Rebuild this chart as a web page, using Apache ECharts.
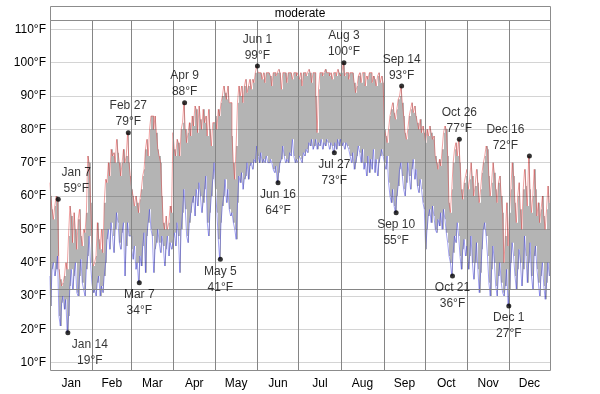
<!DOCTYPE html>
<html><head><meta charset="utf-8">
<script src="https://cdn.jsdelivr.net/npm/echarts@6/dist/echarts.min.js"></script>
<style>html,body{margin:0;padding:0;background:#fff}#c{width:600px;height:394px}</style>
</head><body><div id="c"></div>
<script>
// ---- data ----
const monthNames = ['Jan','Feb','Mar','Apr','May','Jun','Jul','Aug','Sep','Oct','Nov','Dec'];
const monthStarts = [0,31,59,90,120,151,181,212,243,273,304,334];
const yearEnd = 364;
const yTicks = [10,20,30,40,50,60,70,80,90,100,110];
const freezing = 32;
const seriesTitle = 'moderate';

const hiJan = [64,60,56,53,57,60,59,38,35,33,34,36,40,38,48,57,54,46,55,50,44,53,56,48,45,50,49,55,72,70,58];
const loJan = [36,27,38,40,36,38,42,24,21,28,30,26,29,19,24,33,38,32,36,40,31,30,36,41,34,32,30,38,42,48,40];
const hiFeb = [48,39,40,42,52,47,44,50,43,58,65,64,70,66,74,72,73,70,77,73,70,66,70,74,70,72,79,70];
const loFeb = [34,31,32,30,34,36,30,33,31,36,40,47,50,44,52,48,43,50,55,52,46,44,49,52,36,45,52,48];
const hiMar = [66,62,60,57,60,58,55,59,62,66,68,74,77,72,80,84,84,80,84,79,74,72,70,60,52,50,54,50,52,57,55];
const loMar = [48,44,41,45,38,40,34,42,39,45,49,37,48,52,56,50,48,37,44,46,50,46,43,48,45,39,44,48,42,46,44];
const hiApr = [79,74,72,77,76,72,80,82,88,80,76,79,82,78,84,81,87,86,79,87,83,80,86,82,84,78,86,80,75,82];
const loApr = [46,49,45,52,48,37,50,55,62,56,48,46,52,55,58,60,54,62,57,64,60,55,58,62,66,52,48,55,60,65];
const hiMay = [82,84,80,86,84,88,90,93,91,89,93,88,88,78,70,65,75,88,93,90,93,88,93,95,91,93,95,92,95,94,97];
const loMay = [70,62,55,47,41,52,57,60,65,58,62,56,54,55,52,50,47,58,66,64,67,62,65,66,70,65,69,70,68,71,70];
const hiJun = [99,97,97,97,95,97,94,97,97,97,96,93,97,97,96,97,98,97,92,97,97,97,94,97,97,97,95,97,97,96];
const loJun = [75,72,70,73,70,71,70,72,70,70,71,70,68,67,69,64,67,70,71,75,72,70,71,70,73,72,77,72,70,71];
const hiJul = [97,95,97,93,97,97,96,97,98,97,94,97,97,90,79,92,97,97,96,97,98,97,97,96,97,95,97,97,96,98,97];
const loJul = [70,72,71,70,73,72,74,73,76,75,77,74,75,77,74,76,75,77,74,76,75,77,76,74,76,75,73,76,74,77,75];
const hiAug = [96,97,100,96,97,97,95,97,97,97,94,91,93,96,97,94,97,97,93,96,95,97,97,94,96,95,93,96,97,94,96];
const loAug = [77,75,76,74,76,75,74,72,70,73,68,70,72,75,73,70,74,68,70,66,72,67,71,68,74,67,71,66,70,72,74];
const hiSep = [94,80,78,76,80,84,86,88,85,83,86,89,90,93,88,84,79,77,80,84,86,88,85,87,84,82,80,83,79,81];
const loSep = [72,70,68,72,64,60,58,62,57,55,60,63,68,70,66,62,60,64,70,66,62,68,71,65,68,63,61,65,62,58];
const hiOct = [79,76,80,78,81,79,77,78,72,70,68,71,69,74,79,81,80,72,58,55,62,70,74,76,72,77,70,62,59,64,66];
const loOct = [56,44,50,54,56,52,57,54,50,49,53,51,55,50,56,53,49,46,42,40,36,43,48,46,52,48,42,38,44,47,42];
const hiNov = [68,62,65,70,66,60,63,68,64,58,62,67,70,72,75,74,66,60,64,70,67,62,58,64,66,60,55,40,48,58];
const loNov = [45,38,42,48,40,35,40,46,38,31,37,44,50,52,48,42,34,30,38,45,40,33,30,36,40,34,31,30,33,38];
const hiDec = [45,55,62,70,66,58,52,60,64,56,50,62,68,63,57,72,62,55,60,68,62,54,58,52,56,60,54,50,56,63,58];
const loDec = [27,32,40,46,42,36,32,38,44,40,33,38,48,42,34,40,46,36,32,42,45,38,34,30,36,40,33,29,34,40,36];

// annotated extremes (day-of-year indices, 0 = Jan 1)
const annHighDays = [6,57,98,151,214,256,298,349];
const annLowDays  = [13,65,124,166,207,252,293,334];

// ---- build ----
const highs = [].concat(hiJan,hiFeb,hiMar,hiApr,hiMay,hiJun,hiJul,hiAug,hiSep,hiOct,hiNov,hiDec);
const lows  = [].concat(loJan,loFeb,loMar,loApr,loMay,loJun,loJul,loAug,loSep,loOct,loNov,loDec);
const n = highs.length;

function dateLabel(d){
  let m = 0;
  for (let i = 0; i < monthStarts.length; i++) if (d >= monthStarts[i]) m = i;
  return monthNames[m] + ' ' + (d - monthStarts[m] + 1);
}
const monthMids = monthStarts.map((s,i)=> (s + (i < 11 ? monthStarts[i+1] : yearEnd)) / 2);
const labelShift = {6: 18, 13: 22, 349: -24};

const FONT = '"Liberation Sans", Arial, sans-serif';
const chart = echarts.init(document.getElementById('c'), null, {renderer: 'canvas'});

const highPts = annHighDays.map(d => ({
  value: [d, highs[d]], name: dateLabel(d),
  label: {offset: [labelShift[d] || 0, 0]}
}));
const lowPts = annLowDays.map(d => ({
  value: [d, lows[d]], name: dateLabel(d),
  label: {offset: [labelShift[d] || 0, 0]}
}));

const labelBase = {
  show: true, fontSize: 12, lineHeight: 16, color: '#000', fontFamily: FONT,
  align: 'center',
  formatter: p => p.name + '\n' + p.value[1] + '°F'
};

chart.setOption({
  animation: false,
  textStyle: {fontFamily: FONT},
  grid: {left: 50, top: 21, width: 500, height: 350, show: false},
  xAxis: {
    type: 'value', min: 0, max: yearEnd,
    splitLine: {show: false}, axisLine: {show: false}, axisTick: {show: false},
    axisLabel: {
      customValues: monthMids, margin: 7, fontSize: 12, color: '#000', fontFamily: FONT,
      formatter: v => {
        let best = 0, bd = 1e9;
        monthMids.forEach((m,i) => { if (Math.abs(m - v) < bd) { bd = Math.abs(m - v); best = i; } });
        return monthNames[best];
      }
    }
  },
  yAxis: {
    type: 'value', min: 7.5, max: 112.5,
    splitLine: {show: false}, axisLine: {show: false}, axisTick: {show: false},
    axisLabel: {customValues: yTicks, margin: 4, fontSize: 12, color: '#000', fontFamily: FONT,
      formatter: v => v + '°F'}
  },
  graphic: [
    {type: 'rect', z: 100, silent: true,
     shape: {x: 50.5, y: 6.5, width: 500, height: 14},
     style: {fill: '#fff', stroke: '#8c8c8c', lineWidth: 1}},
    {type: 'text', z: 101, silent: true, x: 300, y: 14,
     style: {text: seriesTitle, fontSize: 12, fill: '#000', font: '12px ' + FONT, align: 'center', verticalAlign: 'middle'}},
    {type: 'rect', z: 100, silent: true,
     shape: {x: 50.5, y: 20.5, width: 500, height: 350},
     style: {fill: null, stroke: '#8c8c8c', lineWidth: 1}}
  ],
  series: [
    {
      // daily range bars (low to high), snapped to whole pixels so adjacent days join seamlessly
      type: 'custom', z: 2, silent: true, clip: true,
      data: highs.map((h, i) => [i, lows[i], h]),
      encode: {x: 0, y: [1, 2]},
      renderItem: function(params, api){
        const i = api.value(0), lo = api.value(1), hi = api.value(2);
        const a = api.coord([Math.max(i - 0.5, 0), hi]);
        const b = api.coord([Math.min(i + 0.5, yearEnd), lo]);
        const x0 = Math.round(a[0]), x1 = Math.round(b[0]);
        return {type: 'rect', shape: {x: x0, y: a[1], width: Math.max(x1 - x0, 1), height: b[1] - a[1]},
                style: {fill: '#b4b4b4'}};
      }
    },
    {
      type: 'line', step: 'middle', z: 3, silent: true, symbol: 'none', showSymbol: false,
      data: highs.map((v,i) => [i, v]),
      lineStyle: {color: 'rgba(225,70,70,0.5)', width: 1}
    },
    {
      type: 'line', step: 'middle', z: 3, silent: true, symbol: 'none', showSymbol: false,
      data: lows.map((v,i) => [i, v]),
      lineStyle: {color: 'rgba(70,70,225,0.5)', width: 1}
    },
    {
      type: 'line', data: [], z: 4, silent: true,
      markLine: {silent: true, symbol: ['none','none'], label: {show: false}, animation: false,
        lineStyle: {color: 'rgba(0,0,0,0.17)', width: 1, type: 'solid'},
        emphasis: {disabled: true},
        data: yTicks.map(v => ({yAxis: v}))}
    },
    {
      type: 'line', data: [], z: 4, silent: true,
      markLine: {silent: true, symbol: ['none','none'], label: {show: false}, animation: false,
        lineStyle: {color: '#858585', width: 1, type: 'solid'},
        emphasis: {disabled: true},
        data: monthStarts.slice(1).map(d => ({xAxis: d})).concat([{yAxis: freezing}])}
    },
    {
      type: 'scatter', z: 5, silent: true, symbol: 'circle', symbolSize: 5,
      itemStyle: {color: '#000'},
      data: highPts,
      label: Object.assign({}, labelBase, {position: 'top', distance: 0})
    },
    {
      type: 'scatter', z: 5, silent: true, symbol: 'circle', symbolSize: 5,
      itemStyle: {color: '#000'},
      data: lowPts,
      label: Object.assign({}, labelBase, {position: 'bottom', distance: 1.5})
    }
  ]
});
</script>
</body></html>
